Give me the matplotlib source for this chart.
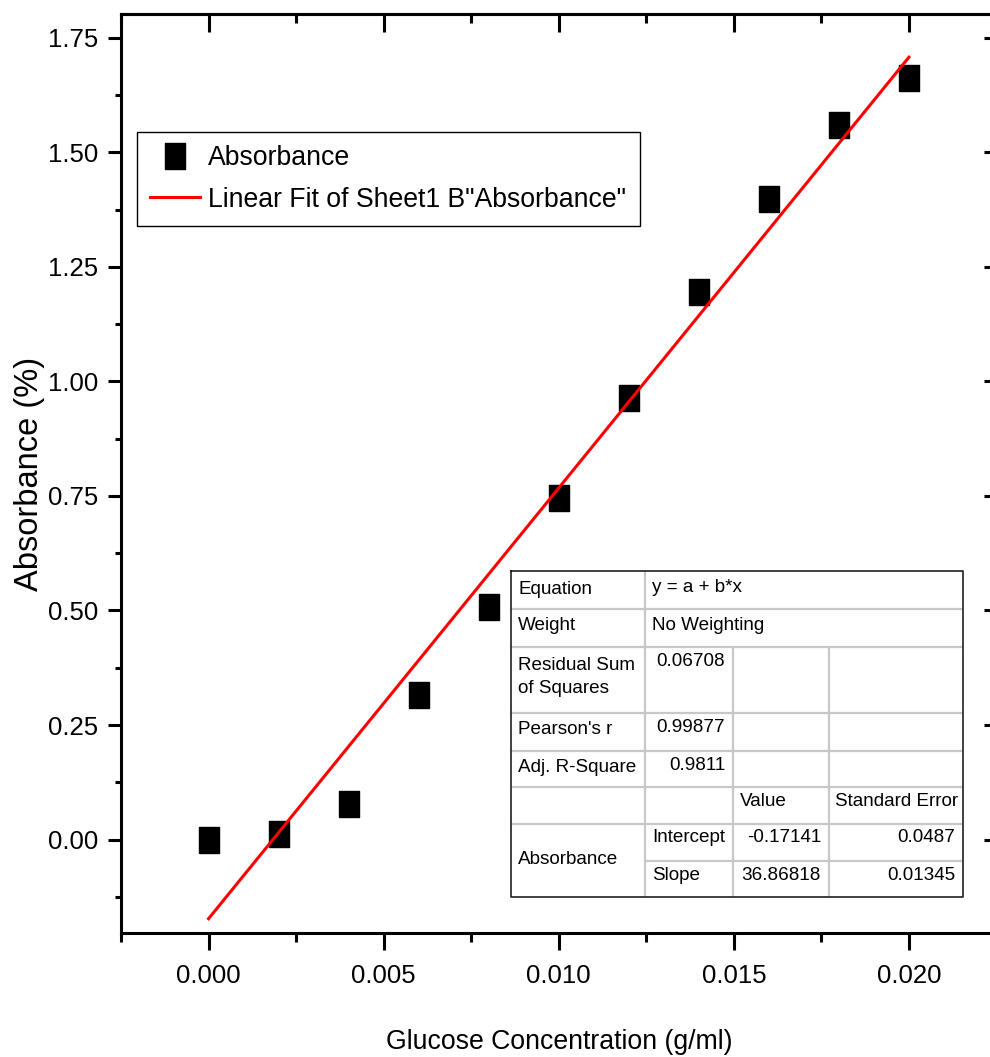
import numpy as np
import matplotlib
matplotlib.use('Agg')
import matplotlib.pyplot as plt
from matplotlib.ticker import MultipleLocator, FormatStrFormatter

# data
conc = [0.000, 0.002, 0.004, 0.006, 0.008, 0.010, 0.012, 0.014, 0.016, 0.018, 0.020]
absorbance = [0.000, 0.012, 0.078, 0.316, 0.508, 0.746, 0.964, 1.196, 1.399, 1.560, 1.663]

# fit report table text
equation = 'y = a + b*x'
weighting = 'No Weighting'
stat_names = ['Residual Sum\nof Squares', "Pearson's r", 'Adj. R-Square']
stat_values = ['0.06708', '0.99877', '0.9811']
param_names = ['Intercept', 'Slope']
param_values = ['-0.17141', '36.86818']
param_errors = ['0.0487', '0.01345']

plt.rcParams['font.family'] = ['Liberation Sans', 'DejaVu Sans']

W, H = 990, 1057
fig = plt.figure(figsize=(W / 100, H / 100), dpi=100)
ax = fig.add_axes([121 / W, 1 - 933 / H, 875.5 / W, 919 / H])

# linear fit through the points
slope, intercept = np.polyfit(conc, absorbance, 1)
xfit = np.array([conc[0], conc[-1]])

rect = [(-0.385, -0.5), (0.385, -0.5), (0.385, 0.5), (-0.385, 0.5), (-0.385, -0.5)]
ax.plot(conc, absorbance, linestyle='none', marker=rect, markersize=18.7,
        color='black', label='Absorbance', zorder=3)
ax.plot(xfit, intercept + slope * xfit, color='#ff0000', lw=2.2,
        label='Linear Fit of Sheet1 B"Absorbance"', zorder=4)

ax.set_xlim(-0.0025, 0.0225)
ax.set_ylim(-0.204, 1.802)
ax.xaxis.set_major_locator(MultipleLocator(0.005))
ax.xaxis.set_minor_locator(MultipleLocator(0.0025))
ax.yaxis.set_major_locator(MultipleLocator(0.25))
ax.yaxis.set_minor_locator(MultipleLocator(0.125))
ax.xaxis.set_major_formatter(FormatStrFormatter('%.3f'))
ax.yaxis.set_major_formatter(FormatStrFormatter('%.2f'))

for s in ax.spines.values():
    s.set_linewidth(2.2)
ax.tick_params(axis='both', which='both', width=2.2, labelsize=18.5)
ax.tick_params(axis='x', which='major', direction='out', length=12.5, pad=10, top=False)
ax.tick_params(axis='x', which='minor', direction='out', length=6.5, top=False)
ax.tick_params(axis='y', which='major', direction='out', length=9.5, pad=7)
ax.tick_params(axis='y', which='minor', direction='out', length=4.5)

# mirrored ticks on top and right, pointing inward
top = ax.secondary_xaxis('top')
top.xaxis.set_major_locator(MultipleLocator(0.005))
top.xaxis.set_minor_locator(MultipleLocator(0.0025))
top.tick_params(which='major', direction='in', length=13, width=2.2, labeltop=False)
top.tick_params(which='minor', direction='in', length=6.5, width=2.2)
top.spines['top'].set_linewidth(2.2)
right = ax.secondary_yaxis('right')
right.yaxis.set_major_locator(MultipleLocator(0.25))
right.yaxis.set_minor_locator(MultipleLocator(0.125))
right.tick_params(which='major', direction='in', length=9.5, width=2.2, labelright=False)
right.tick_params(which='minor', direction='in', length=4.5, width=2.2)

ax.set_xlabel('Glucose Concentration (g/ml)', fontsize=19.2)
ax.xaxis.set_label_coords(0.5, -0.1186)
ax.xaxis.label.set_va('center')
ax.set_ylabel('Absorbance (%)', fontsize=23.5)
ax.yaxis.set_label_coords(-0.104, 0.5)
ax.yaxis.label.set_va('center')

leg = ax.legend(loc='upper left', bbox_to_anchor=(0.0183, 0.8716), borderaxespad=0,
                fontsize=19.2, frameon=True, fancybox=False, framealpha=1,
                edgecolor='black', handlelength=1.87, handletextpad=0.3,
                labelspacing=0.58, borderpad=0.5)
leg.get_frame().set_linewidth(1.0)

# fit report table, drawn in pixel units of its own box
tw, th = 452, 326
tab = fig.add_axes([511 / W, 1 - 897 / H, tw / W, th / H])
tab.set_xlim(0, tw)
tab.set_ylim(th, 0)
tab.axis('off')
cols = [0, 134, 222, 318, tw]
rows = [0, 38, 76, 142, 180, 216, 253, 290, th]
grid = dict(color='#c8c8c8', lw=1.6, solid_capstyle='butt')
for y in rows[1:-1]:
    x0 = cols[1] if y == rows[7] else 0
    tab.plot([x0, tw], [y, y], **grid)
tab.plot([cols[1], cols[1]], [0, th], **grid)
for x in cols[2:4]:
    tab.plot([x, x], [rows[2], th], **grid)
tab.plot([0, tw, tw, 0, 0], [0, 0, th, th, 0], color='#202020', lw=1.2, clip_on=False)

fs = 13.6
pad = 7
tab.text(pad, 18, 'Equation', fontsize=fs, va='center')
tab.text(cols[1] + pad, 16, equation, fontsize=fs, va='center')
tab.text(pad, 55, 'Weight', fontsize=fs, va='center')
tab.text(cols[1] + pad, 54, weighting, fontsize=fs, va='center')
tab.text(pad, 106, stat_names[0], fontsize=fs, va='center', linespacing=1.45)
tab.text(cols[2] - 8, 91, stat_values[0], fontsize=fs, va='center', ha='right')
for i, y in enumerate([159, 196]):
    tab.text(pad, y, stat_names[i + 1], fontsize=fs, va='center')
    tab.text(cols[2] - 8, y - 2, stat_values[i + 1], fontsize=fs, va='center', ha='right')
tab.text(cols[2] + pad, 230, 'Value', fontsize=fs, va='center')
tab.text(cols[3] + 6, 230, 'Standard Error', fontsize=fs, va='center')
tab.text(pad, 289, 'Absorbance', fontsize=fs, va='center')
for i, y in enumerate([267, 304]):
    tab.text(cols[1] + pad, y, param_names[i], fontsize=fs, va='center')
    tab.text(cols[3] - 8, y, param_values[i], fontsize=fs, va='center', ha='right')
    tab.text(tw - 8, y, param_errors[i], fontsize=fs, va='center', ha='right')

fig.savefig('out.png', dpi=100)
